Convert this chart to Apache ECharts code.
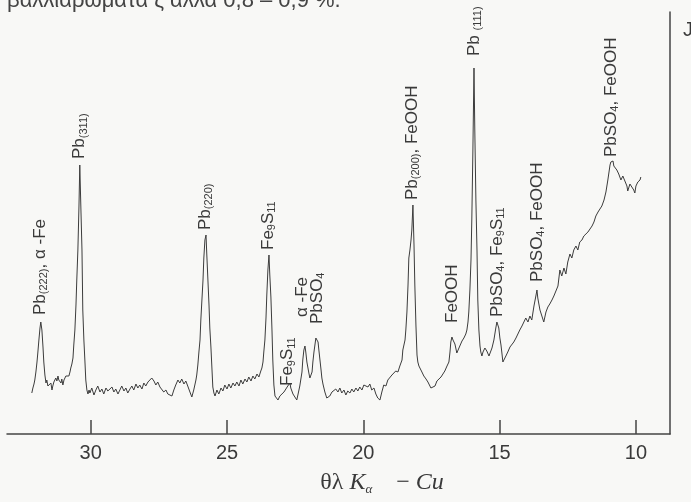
<!DOCTYPE html>
<html>
<head>
<meta charset="utf-8">
<script src="https://cdn.jsdelivr.net/npm/echarts@6/dist/echarts.min.js"></script>
<style>
html,body{margin:0;padding:0;background:#f8f8f6;}
#c{width:691px;height:502px;}
</style>
</head>
<body>
<div id="c"></div>
<script>
// X-ray diffraction pattern, θ (degrees, Cu Kα) vs intensity (arbitrary units)
const ticks = [10, 15, 20, 25, 30];

const scanA = [[32.16,41],[32.12,46],[32.08,50],[32.05,54],[32.01,62],[31.97,72],[31.94,81],[31.90,94],[31.86,106],[31.83,112],[31.79,104],[31.75,87],[31.72,72],[31.68,59],[31.64,51],[31.61,54],[31.57,48],[31.53,50],[31.50,46],[31.46,51],[31.42,44],[31.39,48],[31.35,52],[31.31,50],[31.28,56],[31.24,53],[31.20,58],[31.17,54],[31.13,56],[31.09,51],[31.06,55],[31.02,49],[30.98,54],[30.95,52],[30.91,58],[30.87,56],[30.84,60],[30.80,58],[30.76,62],[30.73,66],[30.69,70],[30.65,76],[30.62,89],[30.58,104],[30.54,129],[30.51,154],[30.47,184],[30.43,228],[30.40,269],[30.36,226],[30.32,184],[30.29,124],[30.25,94],[30.21,72],[30.18,54],[30.14,44],[30.10,40],[30.06,44]];
const scanB = [[30.03,41],[29.96,46],[29.88,39],[29.81,44],[29.74,48],[29.66,42],[29.59,45],[29.52,40],[29.44,46],[29.37,43],[29.30,41],[29.22,47],[29.15,42],[29.08,45],[29.00,40],[28.93,44],[28.86,48],[28.78,43],[28.71,46],[28.64,41],[28.56,45],[28.49,48],[28.42,44],[28.34,50],[28.27,46],[28.20,49],[28.12,45],[28.05,51],[27.98,48],[27.90,52],[27.83,50],[27.76,56],[27.68,53],[27.61,49],[27.54,52],[27.46,47],[27.39,45],[27.32,42],[27.24,44],[27.17,40],[27.10,41],[27.02,38],[26.95,44],[26.88,49],[26.80,54],[26.73,51],[26.66,55],[26.58,50],[26.51,53],[26.44,48],[26.36,42],[26.29,37],[26.22,44],[26.14,54],[26.11,59]];
const scanC = [[26.07,69],[26.03,82],[25.99,94],[25.96,114],[25.92,134],[25.88,154],[25.85,176],[25.81,194],[25.77,199],[25.74,179],[25.70,154],[25.66,129],[25.63,106],[25.59,87],[25.55,64],[25.52,47],[25.48,41],[25.44,38],[25.37,44],[25.30,40],[25.22,46],[25.15,43],[25.08,49],[25.00,45],[24.93,50],[24.86,46],[24.78,51],[24.71,48],[24.64,52],[24.56,48],[24.49,54],[24.42,50],[24.34,55],[24.27,52],[24.20,57],[24.12,53],[24.05,58],[23.98,55],[23.90,60],[23.83,57],[23.76,63],[23.72,66]];
const scanD = [[23.68,72],[23.65,82],[23.61,94],[23.57,116],[23.54,139],[23.50,164],[23.46,179],[23.43,159],[23.39,137],[23.35,104],[23.32,74],[23.28,49],[23.24,38],[23.21,36],[23.13,34],[23.06,38],[22.99,36],[22.91,42],[22.84,44],[22.77,48],[22.69,51],[22.66,46],[22.58,40],[22.51,37],[22.44,34],[22.40,39],[22.33,48],[22.25,62],[22.22,74],[22.18,84],[22.14,88],[22.11,82],[22.07,72],[22.03,66],[21.99,60],[21.96,56],[21.92,54],[21.88,62],[21.85,72],[21.81,82],[21.77,90],[21.74,96],[21.70,98],[21.66,92],[21.63,84],[21.59,74],[21.55,64],[21.52,56],[21.48,50],[21.41,42],[21.34,36],[21.30,34],[21.23,38]];
const scanE = [[21.15,42],[21.08,40],[21.01,45],[20.93,42],[20.86,46],[20.79,41],[20.71,44],[20.64,39],[20.57,43],[20.49,41],[20.42,45],[20.35,42],[20.27,46],[20.20,43],[20.13,47],[20.05,44],[19.98,49],[19.91,51],[19.83,47],[19.76,50],[19.69,44],[19.61,46],[19.54,40],[19.47,36],[19.39,34],[19.32,42],[19.25,49],[19.17,48],[19.10,54],[19.03,53],[18.95,59],[18.88,57],[18.81,63],[18.73,62],[18.66,68],[18.58,74]];
const scanF = [[18.55,84],[18.51,89],[18.47,94],[18.44,104],[18.40,122],[18.36,149],[18.33,176],[18.29,184],[18.25,194],[18.22,204],[18.18,229],[18.14,189],[18.11,149],[18.07,109],[18.03,79],[18.00,72],[17.96,68],[17.92,66],[17.85,62],[17.78,58],[17.70,55],[17.63,52],[17.56,50],[17.52,46],[17.45,44],[17.37,48],[17.30,53],[17.23,51],[17.15,57],[17.08,59],[17.01,63],[16.93,68],[16.86,72],[16.82,82],[16.79,92],[16.75,97],[16.71,94],[16.64,90],[16.60,85],[16.57,81],[16.53,82],[16.46,88],[16.38,93],[16.31,96],[16.24,100],[16.20,104],[16.16,112],[16.13,122]];
const scanG = [[16.09,144],[16.05,174],[16.02,214],[15.98,284],[15.94,366],[15.91,304],[15.87,234],[15.83,184],[15.80,134],[15.76,104],[15.72,88],[15.69,82],[15.65,78],[15.61,82],[15.54,86],[15.47,83],[15.39,78],[15.36,76],[15.28,86],[15.21,94],[15.14,106],[15.10,112],[15.06,114],[15.03,106],[14.99,96],[14.95,89],[14.92,82],[14.88,72],[14.84,74],[14.77,78],[14.70,82],[14.62,87],[14.55,85],[14.48,92],[14.40,96],[14.33,100],[14.26,104],[14.18,108],[14.11,112],[14.04,116],[13.96,112],[13.89,118],[13.82,114],[13.74,128],[13.67,138],[13.63,144],[13.60,136],[13.52,124],[13.45,118],[13.38,112],[13.30,122],[13.23,127],[13.16,130],[13.08,134],[13.01,138],[12.94,136]];
const scanH = [[12.86,148],[12.79,164],[12.72,158],[12.64,166],[12.57,160],[12.50,172],[12.42,180],[12.35,176],[12.28,184],[12.20,188],[12.13,184],[12.06,192],[11.98,194],[11.91,198],[11.84,196],[11.76,202],[11.69,204],[11.61,208],[11.54,212],[11.47,218],[11.39,222],[11.32,224],[11.25,228],[11.17,234],[11.10,242],[11.03,254],[10.95,269],[10.92,272],[10.88,271],[10.84,273],[10.81,268],[10.77,269],[10.70,264],[10.63,260],[10.55,254],[10.48,258],[10.41,256],[10.33,248],[10.30,243],[10.22,250],[10.15,251],[10.08,244],[10.04,241],[10.00,248],[9.93,252],[9.85,254],[9.82,257]];

// peak annotations: text, θ and intensity level where each label starts
const annoText = [
  '{m|Pb}{s|(222)}{m|, α -Fe}',
  '{m|Pb}{s|(311)}',
  '{m|Pb}{s|(220)}',
  '{m|Fe}{s|9}{m|S}{s|11}',
  '{m|Fe}{s|9}{m|S}{s|11}',
  '{m|α -Fe}',
  '{m|PbSO}{s|4}',
  '{m|Pb}{s|(200)}{m|, FeOOH}',
  '{m|FeOOH}',
  '{m|Pb }{s|(111)}',
  '{m|PbSO}{s|4}{m|, Fe}{s|9}{m|S}{s|11}',
  '{m|PbSO}{s|4}{m|, FeOOH}',
  '{m|PbSO}{s|4}{m|, FeOOH}'
];
const annoTheta = [31.86, 30.40, 25.81, 23.50, 22.77, 22.22, 21.70, 18.22, 16.75, 15.94, 15.10, 13.63, 10.92];
const annoLevel = [119, 275, 204, 184, 48, 117, 110, 234, 111, 378, 117, 152, 277];

const axisTitle = '{m|θλ }{i|K}{s|α}{m|    − }{i|Cu}';
const yName = 'J';
const headerText = 'βαλλιάρωματα ζ αλλά 0,8 – 0,9 %.';

const data = [].concat(scanA, scanB, scanC, scanD, scanE, scanF, scanG, scanH);

const chart = echarts.init(document.getElementById('c'), null, {renderer: 'canvas'});
const ink = '#3a3a3a';
chart.setOption({
  backgroundColor: '#f8f8f6',
  animation: false,
  grid: {left: 7, right: 21, top: 12, bottom: 68, containLabel: false},
  xAxis: {
    type: 'value', inverse: true, min: 8.75, max: 33.07,
    axisLine: {show: true, onZero: false, lineStyle: {color: '#444', width: 1.5}},
    axisTick: {show: true, inside: true, length: 14, customValues: ticks, lineStyle: {color: '#444', width: 1.5}},
    axisLabel: {show: true, customValues: ticks, fontSize: 20, color: '#3a3a3a', margin: 9, fontFamily: 'Liberation Sans'},
    splitLine: {show: false}
  },
  yAxis: {
    type: 'value', min: 0, max: 422, position: 'right',
    axisLine: {show: true, onZero: false, lineStyle: {color: '#444', width: 1.5}},
    axisTick: {show: false}, axisLabel: {show: false}, splitLine: {show: false}
  },
  series: [{
    type: 'line', data: data, showSymbol: false, symbol: 'none',
    lineStyle: {color: '#3c3c3c', width: 1}, z: 3
  }]
});

const rich = {
  m: {fontSize: 17, lineHeight: 19, fontFamily: 'Liberation Sans', fill: ink},
  s: {fontSize: 11, lineHeight: 11, verticalAlign: 'bottom', fontFamily: 'Liberation Sans', fill: ink}
};
const graphics = annoText.map(function (t, i) {
  const p = chart.convertToPixel({gridIndex: 0}, [annoTheta[i], annoLevel[i]]);
  return {
    type: 'text', x: p[0], y: p[1], rotation: Math.PI / 2, z: 10,
    style: {text: t, rich: rich, align: 'left', verticalAlign: 'middle', fill: ink}
  };
});
graphics.push({
  type: 'text', x: 382, y: 483, z: 10,
  style: {
    text: axisTitle, align: 'center', verticalAlign: 'middle', fill: ink,
    rich: {
      m: {fontSize: 24, lineHeight: 26, fontFamily: 'Liberation Serif', fill: ink},
      i: {fontSize: 24, lineHeight: 26, fontFamily: 'Liberation Serif', fontStyle: 'italic', fill: ink},
      s: {fontSize: 13, lineHeight: 10, verticalAlign: 'bottom', fontFamily: 'Liberation Serif', fontStyle: 'italic', fill: ink}
    }
  }
});
graphics.push({
  type: 'text', x: 683, y: 30, z: 10,
  style: {text: yName, fontSize: 20, fontFamily: 'Liberation Sans', fill: ink, align: 'left', verticalAlign: 'middle'}
});
graphics.push({
  type: 'text', x: 7, y: 1, z: 10,
  style: {text: headerText, fontSize: 22, fontFamily: 'Liberation Sans', fill: '#444', align: 'left', verticalAlign: 'middle'}
});
chart.setOption({graphic: graphics});
</script>
</body>
</html>
